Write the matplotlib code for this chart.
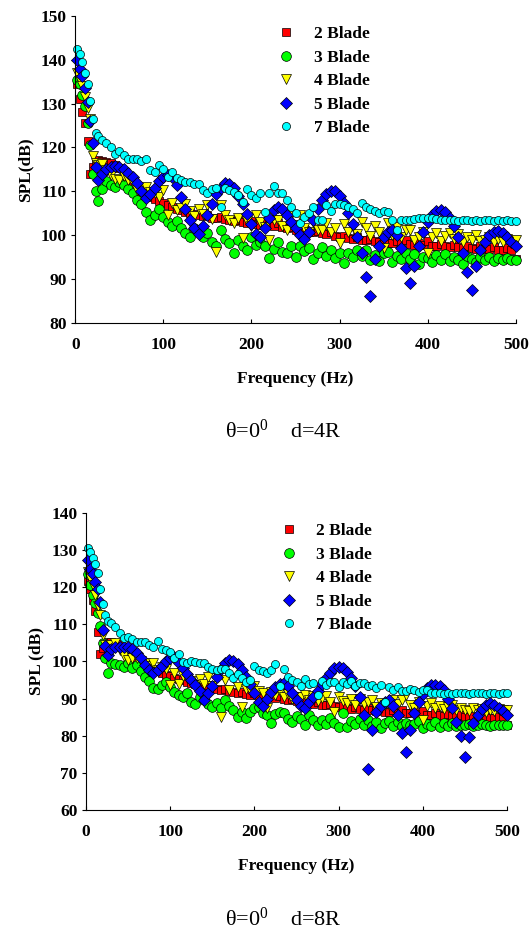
import matplotlib
matplotlib.use("Agg")
import matplotlib.pyplot as plt

plt.rcParams['font.family'] = ['Liberation Serif', 'DejaVu Serif']
plt.rcParams['mathtext.fontset'] = 'custom'
plt.rcParams['mathtext.rm'] = 'Liberation Serif'
plt.rcParams['mathtext.default'] = 'regular'

# frequency bins (Hz) shared by every series
freq = [2, 5, 8, 11, 14, 17, 20, 23, 26] + list(range(30, 505, 5))

labels = ["2 Blade", "3 Blade", "4 Blade", "5 Blade", "7 Blade"]

# ---- theta = 0, d = 4R ----
blade2_4R = [134.5, 131.0, 128.0, 125.5, 121.5, 114.0, 115.5, 117.0, 117.2,
             117.0, 116.7, 116.5, 116.0, 115.2, 114.2, 113.0, 111.8, 110.5, 109.6,
             109.0, 108.6, 108.2, 107.8, 107.4, 106.9, 106.4, 106.0, 105.7, 105.3,
             105.0, 104.8, 104.5, 104.3, 104.6, 104.0, 103.8, 104.2, 103.6, 103.4,
             103.2, 103.5, 103.0, 102.8, 103.1, 102.6, 102.4, 102.8, 102.3, 102.0,
             102.7, 101.8, 101.5, 101.9, 101.2, 101.0, 101.5, 100.8, 100.6, 100.9,
             100.4, 100.2, 100.6, 99.8, 99.6, 99.9, 99.4, 99.2, 99.5, 98.9,
             98.8, 99.2, 98.6, 98.5, 98.9, 98.3, 98.2, 98.7, 98.1, 98.9,
             98.0, 97.8, 98.3, 97.7, 98.6, 97.6, 97.5, 98.0, 97.4, 97.3,
             97.8, 97.2, 97.1, 97.6, 97.0, 96.9, 97.4, 96.8, 96.8, 97.2,
             96.7, 96.6, 97.0, 96.5, 94.5]
blade3_4R = [135.5, 134.5, 132.0, 129.5, 125.5, 120.5, 114.0, 110.0, 107.8,
             110.5, 112.3, 111.5, 111.0, 112.2, 111.4, 110.5, 109.5, 108.0, 107.0,
             105.2, 103.5, 104.5, 106.0, 104.2, 103.0, 102.0, 103.3, 101.5, 100.4,
             99.6, 101.5, 101.2, 99.5, 100.4, 98.5, 97.4, 101.2, 99.0, 98.1,
             95.8, 98.9, 97.5, 96.5, 99.6, 97.8, 98.5, 97.4, 94.7, 96.8,
             98.5, 96.2, 95.8, 97.5, 95.0, 97.4, 96.4, 97.0, 94.5, 96.0,
             97.2, 95.3, 96.6, 94.8, 95.8, 93.6, 95.9, 94.9, 96.5, 95.2,
             96.5, 94.2, 95.5, 94.0, 95.8, 96.2, 93.8, 95.2, 94.6, 96.0,
             94.5, 95.6, 93.5, 95.0, 94.8, 93.8, 95.4, 94.2, 95.7, 94.0,
             95.0, 94.3, 93.4, 95.2, 94.6, 93.8, 94.9, 94.4, 95.1, 94.0,
             94.8, 94.3, 94.7, 94.2, 94.4]
blade4_4R = [137.0, 135.5, 134.0, 131.5, 129.0, 126.5, 118.0, 116.5, 116.0,
             116.2, 114.8, 113.8, 112.8, 112.5, 113.4, 112.6, 111.8, 110.2, 110.8,
             111.0, 109.9, 109.5, 108.8, 110.3, 104.6, 107.3, 105.7, 106.2, 107.0,
             105.5, 104.3, 106.0, 104.8, 106.9, 103.6, 96.2, 106.9, 104.5, 103.4,
             102.7, 104.0, 99.3, 103.2, 102.0, 104.6, 103.0, 101.8, 98.9, 103.4,
             103.4, 102.0, 101.2, 104.6, 102.4, 104.6, 101.6, 100.8, 103.0, 101.2,
             101.2, 102.8, 100.6, 101.6, 98.1, 102.5, 100.8, 101.8, 100.2, 103.0,
             101.5, 99.8, 102.0, 100.6, 97.0, 102.7, 100.0, 101.8, 99.5, 101.2,
             101.2, 98.8, 99.6, 100.8, 95.8, 99.5, 100.4, 98.6, 99.8, 100.4,
             99.0, 100.2, 98.4, 99.6, 98.9, 100.0, 98.6, 98.9, 99.6, 98.5,
             99.2, 98.4, 99.0, 98.6, 98.9]
blade5_4R = [140.0, 138.0, 136.3, 133.5, 130.3, 126.0, 121.0, 115.5, 112.5,
             114.0, 115.0, 115.5, 115.7, 115.5, 115.0, 114.2, 113.2, 111.8, 110.0,
             108.5, 109.3, 110.8, 112.3, 113.3, 113.8, 113.2, 111.5, 108.8, 106.0,
             103.5, 101.5, 100.3, 102.0, 104.5, 107.0, 109.3, 110.8, 111.8, 111.6,
             110.7, 109.0, 107.0, 104.8, 102.5, 100.3, 99.6, 101.5, 104.0, 105.8,
             106.5, 106.0, 104.5, 103.0, 101.5, 100.0, 99.0, 100.8, 103.5, 106.0,
             108.0, 109.3, 110.0, 110.0, 109.0, 107.3, 105.0, 102.5, 99.5, 96.0,
             90.5, 86.0, 94.5, 97.5, 99.5, 100.8, 101.2, 100.0, 97.0, 92.5,
             89.0, 93.0, 97.5, 100.8, 103.0, 104.5, 105.4, 105.7, 105.2, 104.0,
             102.0, 99.5, 96.0, 91.5, 87.5, 93.0, 96.5, 98.5, 100.0, 100.8,
             101.0, 100.5, 99.5, 98.5, 97.5]
blade7_4R = [142.4, 141.3, 139.5, 137.0, 134.5, 130.5, 126.5, 123.3, 122.6,
             121.8, 121.0, 120.2, 118.5, 119.3, 118.2, 117.3, 117.4, 117.3, 117.0,
             117.3, 114.8, 114.5, 116.0, 115.0, 113.3, 114.5, 113.0, 112.6, 112.2,
             112.0, 111.6, 111.6, 110.4, 109.5, 110.5, 110.7, 106.5, 110.7, 110.2,
             109.9, 109.2, 107.6, 110.5, 109.2, 108.5, 109.5, 105.3, 109.5, 111.2,
             109.5, 109.5, 107.9, 106.5, 105.0, 102.7, 104.2, 105.0, 106.5, 103.4,
             103.4, 106.9, 105.5, 107.0, 107.2, 106.9, 106.5, 106.0, 105.0, 107.3,
             106.5, 106.0, 105.5, 105.0, 105.5, 105.3, 103.4, 101.2, 103.4, 103.5,
             103.4, 103.6, 104.0, 104.0, 104.0, 103.8, 103.6, 103.4, 103.5, 103.4,
             103.4, 103.3, 103.4, 103.5, 103.3, 103.4, 103.2, 103.4, 103.5, 103.3,
             103.4, 103.3, 103.4, 103.3, 103.3]

# ---- theta = 0, d = 8R ----
blade2_8R = [121.8, 119.5, 116.5, 113.5, 108.0, 102.0, 103.5, 104.8, 105.2,
             105.3, 105.0, 104.6, 104.0, 103.2, 102.0, 101.0, 100.0, 99.0, 98.3,
             97.8, 97.3, 96.9, 96.4, 96.0, 95.6, 95.3, 95.0, 94.6, 94.3,
             94.0, 93.7, 93.3, 93.6, 92.8, 92.5, 92.3, 92.7, 92.0, 91.8,
             91.6, 91.9, 91.3, 91.0, 91.4, 90.8, 90.6, 91.0, 90.3, 90.1,
             90.6, 89.8, 89.6, 90.0, 89.3, 89.1, 89.5, 88.8, 88.6, 89.0,
             88.4, 88.2, 88.6, 87.9, 87.7, 88.1, 87.5, 87.3, 87.7, 87.1,
             87.0, 87.4, 86.8, 86.7, 87.1, 86.5, 86.4, 86.8, 86.2, 86.9,
             86.1, 86.0, 86.4, 85.8, 86.6, 85.7, 85.6, 86.0, 85.5, 85.4,
             85.8, 85.3, 85.2, 85.6, 85.1, 85.0, 85.4, 84.9, 84.9, 85.3,
             84.8, 84.7, 85.1, 84.6, 82.8]
blade3_8R = [123.5, 120.6, 118.0, 115.8, 113.0, 109.5, 105.0, 101.0, 96.8,
             99.5, 99.2, 99.0, 98.5, 99.5, 98.2, 99.0, 97.5, 95.9, 94.8,
             92.8, 92.5, 93.6, 94.6, 93.2, 91.8, 91.0, 90.5, 91.5, 89.2,
             88.5, 90.5, 89.7, 88.6, 87.8, 88.9, 87.4, 89.7, 88.0, 86.9,
             85.1, 86.5, 84.7, 86.5, 87.4, 87.8, 86.0, 85.6, 83.4, 85.8,
             86.5, 86.0, 84.5, 83.8, 85.2, 84.6, 83.0, 85.5, 84.3, 82.9,
             84.3, 83.2, 84.8, 83.5, 82.4, 86.2, 82.4, 84.0, 83.2, 84.5,
             83.0, 84.3, 82.6, 83.8, 82.0, 83.5, 84.0, 82.7, 83.6, 82.5,
             83.5, 82.8, 83.2, 84.0, 82.0, 83.1, 82.6, 83.6, 82.4, 83.3,
             82.7, 83.4, 82.5, 83.0, 82.8, 83.2, 82.6, 82.9, 83.1, 82.9,
             82.7, 83.0, 82.8, 82.9, 82.9]
blade4_8R = [124.0, 122.5, 120.5, 118.0, 115.0, 112.5, 107.0, 104.5, 104.0,
             104.5, 104.9, 103.0, 101.5, 100.4, 101.0, 101.0, 100.2, 99.5, 98.8,
             99.5, 97.8, 98.5, 98.0, 93.7, 97.0, 94.0, 96.2, 95.5, 94.8,
             93.7, 95.2, 94.0, 95.8, 93.5, 96.4, 85.1, 95.0, 92.3, 95.5,
             93.0, 87.8, 92.6, 92.3, 93.5, 92.0, 91.5, 87.4, 91.8, 91.1,
             92.0, 90.5, 91.2, 89.8, 90.5, 90.5, 91.0, 89.5, 90.8, 89.4,
             90.2, 90.8, 89.0, 86.5, 90.5, 89.4, 88.8, 89.8, 88.4, 90.0,
             88.6, 89.2, 89.6, 87.8, 88.9, 88.3, 88.3, 89.5, 88.5, 89.6,
             91.0, 88.2, 87.6, 89.0, 84.2, 87.9, 88.7, 87.5, 88.0, 87.2,
             87.8, 88.2, 86.8, 87.5, 87.0, 86.6, 87.4, 86.9, 87.2, 86.4,
             87.0, 86.6, 87.1, 86.8, 87.0]
blade5_8R = [127.2, 125.0, 123.6, 121.5, 119.6, 116.0, 108.5, 104.2, 101.8,
             103.3, 103.8, 104.0, 104.0, 103.8, 103.3, 102.2, 100.9, 99.0, 97.6,
             96.9, 97.8, 98.8, 100.0, 101.0, 101.2, 99.6, 98.2, 96.5, 95.0,
             93.6, 92.0, 89.5, 91.5, 93.5, 95.8, 98.0, 99.6, 100.4, 100.2,
             99.3, 97.8, 95.9, 93.8, 91.6, 89.2, 88.0, 89.8, 91.9, 93.2,
             94.0, 94.2, 93.4, 91.5, 89.5, 88.0, 87.5, 89.0, 90.5, 92.0,
             93.8, 95.5, 97.0, 98.2, 98.6, 98.3, 97.2, 95.5, 93.3, 90.5,
             85.5, 71.0, 81.5, 86.5, 88.0, 89.2, 89.5, 88.0, 85.6, 80.7,
             75.7, 81.5, 86.0, 89.0, 91.2, 92.8, 93.6, 93.7, 93.3, 92.2,
             90.0, 87.5, 83.8, 80.0, 74.4, 79.7, 83.5, 85.5, 87.2, 88.3,
             88.7, 88.4, 87.6, 86.6, 85.6]
blade7_8R = [130.6, 129.6, 128.0, 126.2, 123.8, 119.5, 115.5, 112.5, 111.0,
             110.3, 109.3, 107.8, 106.2, 106.7, 106.0, 105.3, 105.3, 105.3, 104.5,
             104.0, 105.5, 103.4, 103.0, 102.6, 101.0, 102.0, 99.8, 99.5, 100.0,
             99.8, 99.5, 99.5, 98.5, 97.9, 97.6, 98.0, 98.0, 97.0, 95.5,
             96.5, 95.5, 94.5, 95.0, 98.8, 97.8, 97.3, 96.8, 97.7, 99.3,
             93.4, 97.9, 95.9, 95.0, 94.6, 93.5, 95.2, 93.8, 94.1, 91.0,
             94.8, 93.6, 94.5, 94.6, 93.2, 94.6, 94.0, 94.8, 93.5, 94.1,
             94.1, 93.5, 93.7, 92.8, 93.7, 89.2, 93.0, 92.3, 93.0, 92.0,
             92.0, 92.5, 92.3, 91.8, 92.3, 92.3, 91.6, 91.4, 91.6, 91.3,
             91.4, 91.3, 91.5, 91.4, 91.4, 91.3, 91.4, 91.5, 91.4, 91.3,
             91.4, 91.4, 91.3, 91.4, 91.4]

# marker, face colour, size (pt) for each series, Excel-like
styles = [("s", "#FF0000", 5.8),
          ("o", "#00FF00", 7.0),
          ("v", "#FFFF00", 6.6),
          ("D", "#0000FF", 5.8),
          ("o", "#00FFFF", 5.8)]


def draw_panel(ax, series, ylim, yticks, ylabel):
    for vals, lab, (mk, col, ms) in zip(series, labels, styles):
        ax.plot(freq, vals, linestyle="none", marker=mk, markersize=ms,
                markerfacecolor=col, markeredgecolor="black",
                markeredgewidth=0.5, label=lab, clip_on=False)
    ax.set_xlim(0, 500)
    ax.set_ylim(*ylim)
    ax.set_yticks(yticks)
    ax.set_xticks([0, 100, 200, 300, 400, 500])
    ax.spines["top"].set_visible(False)
    ax.spines["right"].set_visible(False)
    ax.tick_params(axis="x", direction="in", length=3, labelsize=12.5, pad=10)
    ax.tick_params(axis="y", direction="out", length=3, labelsize=12.5, pad=3)
    for t in ax.get_xticklabels() + ax.get_yticklabels():
        t.set_fontweight("bold")
    ax.set_xlabel("Frequency (Hz)", fontsize=12.5, fontweight="bold", labelpad=13)
    ax.set_ylabel(ylabel, fontsize=12.5, fontweight="bold", labelpad=5)
    ax.legend(loc="upper left", bbox_to_anchor=(0.44, 0.995), frameon=False,
              borderpad=0, handlelength=1.0, handletextpad=1.1,
              labelspacing=0.42, prop={"weight": "bold", "size": 12.5})


fig = plt.figure(figsize=(5.29, 9.31), dpi=100)

ax1 = fig.add_axes([0.1424, 0.6534, 0.8325, 0.3294])
draw_panel(ax1, [blade2_4R, blade3_4R, blade4_4R, blade5_4R, blade7_4R],
           (80, 150), range(80, 151, 10), "SPL(dB)")

ax2 = fig.add_axes([0.1626, 0.1300, 0.7958, 0.3190])
draw_panel(ax2, [blade2_8R, blade3_8R, blade4_8R, blade5_8R, blade7_8R],
           (60, 140), range(60, 141, 10), "SPL (dB)")

fig.text(0.535, 1 - 431 / 931, r"θ=0$^{0}$    d=4R", ha="center", va="center", fontsize=16)
fig.text(0.535, 1 - 919 / 931, r"θ=0$^{0}$    d=8R", ha="center", va="center", fontsize=16)

fig.savefig("out.png", dpi=100)
